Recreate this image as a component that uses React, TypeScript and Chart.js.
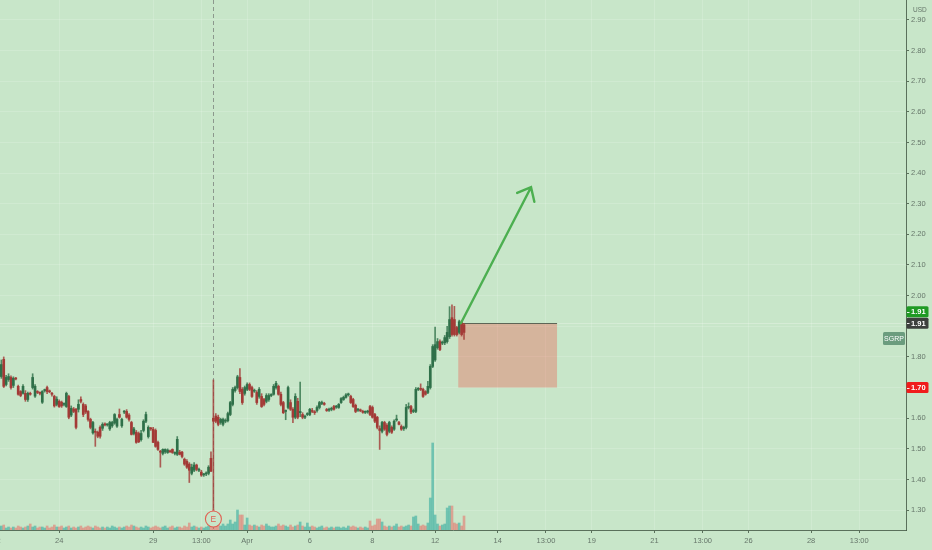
import React, { useEffect, useRef } from "react";
import { Chart, registerables } from "chart.js";

Chart.register(...registerables);

// ---- 30-minute bars, index 1 = 2nd bar of Mar 22 (13 bars per session) ----
const FIRST_BAR = 1;

const OPEN = [
  1.750,1.736,1.792,1.710,1.726,1.733,1.707,1.730,1.704,1.687,1.681,1.681,
  1.661,1.681,1.700,1.672,1.685,1.682,1.652,1.690,1.700,1.688,1.680,1.671,1.645,
  1.655,1.652,1.645,1.638,1.671,1.610,1.630,1.629,1.629,1.661,1.645,1.640,1.622,
  1.596,1.552,1.556,1.554,1.570,1.567,1.580,1.578,1.565,1.575,1.584,1.574,1.612,
  1.575,1.620,1.622,1.610,1.586,1.550,1.554,1.550,1.530,1.560,1.590,1.540,1.566,
  1.564,1.560,1.521,1.492,1.485,1.490,1.488,1.492,1.498,1.485,1.482,1.489,1.489,
  1.466,1.459,1.450,1.420,1.430,1.447,1.430,1.424,1.415,1.418,1.420,1.469,1.600,
  1.607,1.603,1.586,1.580,1.590,1.592,1.612,1.645,1.690,1.700,1.733,1.694,1.681,
  1.694,1.710,1.700,1.688,1.684,1.671,1.671,1.661,1.655,1.661,1.674,1.678,1.700,
  1.704,1.678,1.651,1.622,1.635,1.651,1.629,1.603,1.655,1.618,1.612,1.603,1.612,
  1.612,1.625,1.620,1.625,1.635,1.648,1.648,1.628,1.626,1.629,1.638,1.636,1.635,
  1.651,1.661,1.668,1.676,1.671,1.661,1.642,1.626,1.627,1.622,1.619,1.620,1.638,
  1.635,1.612,1.603,1.566,1.557,1.586,1.577,1.557,1.570,1.564,1.594,1.586,1.573,
  1.566,1.570,1.635,1.638,1.622,1.622,1.694,1.696,1.694,1.687,1.684,1.700,1.769,
  1.790,1.830,1.850,1.845,1.846,1.850,1.866,1.928,1.922,1.896,1.880,1.912,1.905,
];

const HIGH = [
  1.780,1.790,1.800,1.740,1.745,1.738,1.735,1.733,1.708,1.690,1.710,1.690,
  1.685,1.685,1.745,1.710,1.690,1.686,1.690,1.695,1.705,1.692,1.684,1.675,1.670,
  1.660,1.656,1.650,1.685,1.675,1.640,1.635,1.632,1.660,1.670,1.650,1.645,1.625,
  1.600,1.590,1.565,1.558,1.575,1.585,1.585,1.582,1.590,1.590,1.615,1.600,1.630,
  1.600,1.625,1.628,1.615,1.590,1.570,1.560,1.555,1.560,1.595,1.620,1.575,1.570,
  1.570,1.565,1.525,1.495,1.500,1.500,1.500,1.496,1.500,1.490,1.540,1.495,1.492,
  1.470,1.465,1.455,1.450,1.455,1.450,1.437,1.430,1.420,1.425,1.445,1.490,1.725,
  1.615,1.610,1.600,1.600,1.598,1.620,1.655,1.700,1.705,1.740,1.762,1.700,1.705,
  1.715,1.715,1.705,1.695,1.690,1.700,1.680,1.665,1.680,1.680,1.680,1.710,1.720,
  1.708,1.685,1.655,1.627,1.705,1.660,1.635,1.680,1.665,1.718,1.618,1.610,1.618,
  1.632,1.632,1.625,1.640,1.655,1.656,1.652,1.632,1.633,1.636,1.642,1.642,1.648,
  1.667,1.672,1.680,1.682,1.675,1.665,1.646,1.632,1.630,1.626,1.624,1.626,1.642,
  1.640,1.616,1.606,1.575,1.590,1.590,1.582,1.590,1.575,1.595,1.610,1.590,1.578,
  1.574,1.645,1.650,1.642,1.630,1.700,1.700,1.712,1.698,1.690,1.720,1.775,1.840,
  1.897,1.860,1.856,1.852,1.870,1.900,1.964,1.970,1.965,1.900,1.920,1.918,1.910,
];

const LOW = [
  1.745,1.730,1.700,1.705,1.720,1.695,1.700,1.725,1.675,1.670,1.678,1.655,
  1.655,1.675,1.695,1.668,1.680,1.676,1.648,1.685,1.680,1.683,1.672,1.636,1.640,
  1.635,1.635,1.640,1.635,1.598,1.605,1.618,1.565,1.620,1.650,1.605,1.615,1.590,
  1.565,1.548,1.508,1.536,1.535,1.560,1.575,1.574,1.560,1.570,1.580,1.570,1.600,
  1.570,1.615,1.600,1.590,1.545,1.545,1.518,1.520,1.525,1.555,1.585,1.535,1.560,
  1.520,1.505,1.495,1.440,1.480,1.485,1.485,1.488,1.485,1.480,1.478,1.480,1.470,
  1.446,1.436,1.390,1.415,1.425,1.428,1.425,1.410,1.410,1.412,1.415,1.425,1.300,
  1.585,1.575,1.580,1.575,1.585,1.588,1.608,1.640,1.685,1.695,1.680,1.645,1.675,
  1.690,1.690,1.668,1.684,1.645,1.665,1.635,1.640,1.650,1.655,1.670,1.675,1.695,
  1.675,1.640,1.615,1.595,1.630,1.625,1.585,1.598,1.598,1.605,1.598,1.598,1.608,
  1.608,1.618,1.612,1.620,1.630,1.644,1.642,1.622,1.622,1.624,1.626,1.632,1.632,
  1.648,1.658,1.665,1.672,1.648,1.635,1.618,1.622,1.621,1.616,1.615,1.616,1.608,
  1.600,1.585,1.565,1.498,1.552,1.560,1.542,1.552,1.550,1.560,1.590,1.578,1.560,
  1.560,1.565,1.630,1.615,1.618,1.618,1.690,1.690,1.668,1.675,1.680,1.695,1.765,
  1.785,1.825,1.820,1.840,1.840,1.845,1.860,1.868,1.868,1.868,1.875,1.868,1.857,
];

const CLOSE = [
  1.775,1.775,1.704,1.733,1.736,1.700,1.730,1.728,1.678,1.674,1.704,1.661,
  1.681,1.678,1.733,1.704,1.684,1.681,1.687,1.691,1.687,1.686,1.678,1.640,1.662,
  1.638,1.640,1.648,1.681,1.603,1.632,1.622,1.570,1.645,1.655,1.612,1.620,1.596,
  1.570,1.586,1.554,1.541,1.541,1.580,1.578,1.579,1.586,1.586,1.612,1.596,1.603,
  1.596,1.622,1.603,1.596,1.547,1.565,1.521,1.523,1.550,1.590,1.612,1.570,1.565,
  1.521,1.508,1.498,1.489,1.498,1.498,1.496,1.490,1.488,1.486,1.531,1.482,1.475,
  1.450,1.440,1.430,1.440,1.447,1.433,1.432,1.414,1.417,1.420,1.440,1.427,1.590,
  1.590,1.580,1.596,1.596,1.592,1.615,1.651,1.694,1.700,1.735,1.687,1.651,1.700,
  1.710,1.694,1.671,1.690,1.651,1.694,1.638,1.645,1.674,1.674,1.676,1.704,1.714,
  1.678,1.645,1.618,1.625,1.700,1.629,1.603,1.671,1.603,1.622,1.603,1.606,1.612,
  1.629,1.622,1.618,1.635,1.651,1.651,1.645,1.625,1.628,1.632,1.629,1.638,1.645,
  1.664,1.668,1.676,1.678,1.651,1.638,1.622,1.629,1.624,1.619,1.621,1.623,1.612,
  1.603,1.590,1.570,1.560,1.586,1.564,1.547,1.586,1.554,1.590,1.597,1.580,1.564,
  1.570,1.635,1.638,1.620,1.625,1.694,1.697,1.694,1.671,1.678,1.704,1.769,1.834,
  1.840,1.850,1.824,1.847,1.863,1.880,1.922,1.873,1.873,1.873,1.915,1.873,1.880,
];

// volume in thousands of shares
const VOLUME = [
  30,40,50,20,30,20,30,20,40,30,20,30,
  40,60,30,40,20,30,30,20,40,20,30,50,30,
  30,40,20,30,40,20,30,20,30,40,20,30,40,
  30,20,40,30,20,30,20,30,20,40,30,20,30,
  20,30,40,30,50,40,30,20,30,20,40,30,20,
  30,40,30,20,30,40,20,30,40,20,30,30,20,
  40,30,70,30,40,30,20,30,20,30,40,30,200,
  60,50,40,60,40,60,100,60,80,200,150,150,50,
  120,50,40,50,40,30,50,40,60,40,30,30,40,
  60,40,50,40,30,50,30,40,50,80,40,30,70,
  30,40,30,20,30,40,20,30,20,30,20,30,30,
  20,30,20,40,30,40,30,20,30,20,30,20,90,
  40,50,110,110,80,40,30,40,30,40,60,30,40,
  30,40,50,40,130,140,60,40,50,40,70,320,870,
  150,60,40,50,60,220,240,240,70,60,70,40,140,
];

// time axis: bar index of each labelled session / time
const TICK_BARS = [0, 26, 65, 85, 104, 130, 156, 182, 208, 228, 247, 273, 293, 312, 338, 358];
const TICK_LABELS = ["22", "24", "29", "13:00", "Apr", "6", "8", "12", "14", "13:00", "19", "21", "13:00", "26", "28", "13:00"];

const PRICE_TICKS = [1.3, 1.4, 1.5, 1.6, 1.7, 1.8, 1.9, 2.0, 2.1, 2.2, 2.3, 2.4, 2.5, 2.6, 2.7, 2.8, 2.9];

const SYMBOL = "SGRP";
const CURRENCY = "USD";
const EARNINGS_MARK = "E";
const EARNINGS_BAR = 89.8;
const ENTRY_PRICE = 1.91;
const LAST_PRICE = 1.91;
const STOP_PRICE = 1.7;
const SYMBOL_LABEL_PRICE = 1.86;
const BOX_START_BAR = 191.6;
const BOX_END_BAR = 232.6;
const ARROW_FROM_BAR = 192.7;
const ARROW_FROM_PRICE = 1.91;
const ARROW_TO_BAR = 221.8;
const ARROW_TO_PRICE = 2.354;

const X_MIN = 1.45;
const X_MAX = 377.4;
const Y_MIN = 1.235;
const Y_MAX = 2.965;
const VOL_MAX = 5300;

const BG = "#c8e6c9";
const GRID = "rgba(255,255,255,0.16)";
const AXIS = "rgba(70,90,72,0.85)";
const TEXT = "#66766a";
const UP = "#2f7049";
const DOWN = "#a33a36";
const FONT = "'Liberation Sans', Arial, sans-serif";

function roundRect(ctx: CanvasRenderingContext2D, x: number, y: number, w: number, h: number, r: number) {
  ctx.beginPath();
  ctx.moveTo(x + r, y);
  ctx.lineTo(x + w - r, y);
  ctx.quadraticCurveTo(x + w, y, x + w, y + r);
  ctx.lineTo(x + w, y + h - r);
  ctx.quadraticCurveTo(x + w, y + h, x + w - r, y + h);
  ctx.lineTo(x + r, y + h);
  ctx.quadraticCurveTo(x, y + h, x, y + h - r);
  ctx.lineTo(x, y + r);
  ctx.quadraticCurveTo(x, y, x + r, y);
  ctx.closePath();
}

const overlay = {
  id: "overlay",
  beforeDraw(chart: any) {
    const { ctx, width, height } = chart;
    ctx.save();
    ctx.fillStyle = BG;
    ctx.fillRect(0, 0, width, height);
    ctx.restore();
  },
  beforeDatasetsDraw(chart: any) {
    const { ctx, chartArea, scales } = chart;
    const x = scales.x;
    const y = scales.y;
    ctx.save();
    // earnings dashed line
    const ex = Math.round(x.getPixelForValue(EARNINGS_BAR)) + 0.5;
    ctx.strokeStyle = "rgba(120,125,120,0.75)";
    ctx.lineWidth = 1;
    ctx.setLineDash([4, 3]);
    ctx.beginPath();
    ctx.moveTo(ex, chartArea.top);
    ctx.lineTo(ex, chartArea.bottom);
    ctx.stroke();
    ctx.setLineDash([]);
    // last price line
    const ly = Math.round(y.getPixelForValue(LAST_PRICE)) + 0.5;
    ctx.strokeStyle = "rgba(255,255,255,0.25)";
    ctx.beginPath();
    ctx.moveTo(chartArea.left, ly);
    ctx.lineTo(chartArea.right, ly);
    ctx.stroke();
    // stop box
    const bx1 = x.getPixelForValue(BOX_START_BAR);
    const bx2 = x.getPixelForValue(BOX_END_BAR);
    const by1 = y.getPixelForValue(ENTRY_PRICE);
    const by2 = y.getPixelForValue(STOP_PRICE);
    ctx.fillStyle = "rgba(244,67,54,0.3)";
    ctx.fillRect(bx1, by1, bx2 - bx1, by2 - by1);
    ctx.strokeStyle = "rgba(70,85,70,0.85)";
    ctx.beginPath();
    ctx.moveTo(bx1, Math.round(by1) + 0.5);
    ctx.lineTo(bx2, Math.round(by1) + 0.5);
    ctx.stroke();
    ctx.restore();
  },
  afterDatasetsDraw(chart: any) {
    const { ctx, chartArea, scales } = chart;
    const x = scales.x;
    const y = scales.y;
    ctx.save();
    // arrow
    const x0 = x.getPixelForValue(ARROW_FROM_BAR);
    const y0 = y.getPixelForValue(ARROW_FROM_PRICE);
    const x1 = x.getPixelForValue(ARROW_TO_BAR);
    const y1 = y.getPixelForValue(ARROW_TO_PRICE);
    ctx.strokeStyle = "#4caf50";
    ctx.lineWidth = 2.4;
    ctx.lineCap = "round";
    ctx.beginPath();
    ctx.moveTo(x0, y0);
    ctx.lineTo(x1, y1);
    const ang = Math.atan2(y1 - y0, x1 - x0) + Math.PI;
    const head = 15;
    ctx.moveTo(x1 + head * Math.cos(ang + 0.7), y1 + head * Math.sin(ang + 0.7));
    ctx.lineTo(x1, y1);
    ctx.lineTo(x1 + head * Math.cos(ang - 0.7), y1 + head * Math.sin(ang - 0.7));
    ctx.stroke();
    // earnings marker
    const ex = x.getPixelForValue(EARNINGS_BAR) + 0.5;
    const ey = chartArea.bottom - 11;
    ctx.lineWidth = 1.1;
    ctx.strokeStyle = "rgba(226,88,76,0.95)";
    ctx.fillStyle = BG;
    ctx.beginPath();
    ctx.arc(ex, ey, 8, 0, Math.PI * 2);
    ctx.fill();
    ctx.stroke();
    ctx.fillStyle = "rgba(226,88,76,0.95)";
    ctx.font = `8.5px ${FONT}`;
    ctx.textAlign = "center";
    ctx.textBaseline = "middle";
    ctx.fillText(EARNINGS_MARK, ex, ey + 0.5);
    ctx.restore();
  },
  afterDraw(chart: any) {
    const { ctx, chartArea, scales } = chart;
    const y = scales.y;
    const ax = chartArea.right;
    ctx.save();
    ctx.textBaseline = "middle";
    // currency
    ctx.fillStyle = TEXT;
    ctx.font = `6.5px ${FONT}`;
    ctx.textAlign = "left";
    ctx.fillText(CURRENCY, ax + 7, 10.5);
    // price labels
    const labels = [
      { value: ENTRY_PRICE, shift: -11.5, color: "#1f9a24" },
      { value: LAST_PRICE, shift: 0, color: "#3d3f3d" },
      { value: STOP_PRICE, shift: 0, color: "#f01c1c" },
    ];
    for (const l of labels) {
      const cy = y.getPixelForValue(l.value) + l.shift;
      ctx.fillStyle = l.color;
      roundRect(ctx, ax + 0.5, cy - 5.5, 22, 11, 1.5);
      ctx.fill();
      ctx.strokeStyle = "rgba(255,255,255,0.9)";
      ctx.lineWidth = 1;
      ctx.beginPath();
      ctx.moveTo(ax + 1, Math.round(cy) + 0.5);
      ctx.lineTo(ax + 3.5, Math.round(cy) + 0.5);
      ctx.stroke();
      ctx.fillStyle = "#ffffff";
      ctx.font = `bold 7.5px ${FONT}`;
      ctx.textAlign = "left";
      ctx.fillText(l.value.toFixed(2), ax + 5, cy + 0.5);
    }
    // symbol label
    const sy = y.getPixelForValue(SYMBOL_LABEL_PRICE);
    ctx.fillStyle = "#6b9c7e";
    roundRect(ctx, ax - 23, sy - 6.5, 22, 13, 1.5);
    ctx.fill();
    ctx.fillStyle = "#ffffff";
    ctx.font = `7px ${FONT}`;
    ctx.textAlign = "center";
    ctx.fillText(SYMBOL, ax - 12, sy + 0.5);
    ctx.restore();
  },
};

export default function App() {
  const ref = useRef<HTMLCanvasElement | null>(null);

  useEffect(() => {
    if (!ref.current) return;
    const bars = OPEN.map((_, i) => FIRST_BAR + i);
    const up = OPEN.map((o, i) => CLOSE[i] >= o);
    const chart = new Chart(ref.current, {
      type: "bar",
      data: {
        datasets: [
          {
            label: "body",
            data: bars.map((b, i) => ({ x: b, y: [OPEN[i], CLOSE[i]] })) as any,
            backgroundColor: up.map((u) => (u ? UP : DOWN)),
            barThickness: 2,
            minBarLength: 1,
            grouped: false,
            order: 1,
            yAxisID: "y",
          },
          {
            label: "wick",
            data: bars.map((b, i) => ({ x: b, y: [LOW[i], HIGH[i]] })) as any,
            backgroundColor: up.map((u) => (u ? "rgba(47,112,73,0.8)" : "rgba(163,58,54,0.8)")),
            barThickness: 1,
            grouped: false,
            order: 2,
            yAxisID: "y",
          },
          {
            label: "volume",
            data: bars.map((b, i) => ({ x: b, y: VOLUME[i] })) as any,
            backgroundColor: up.map((u) => (u ? "rgba(38,166,154,0.55)" : "rgba(239,83,80,0.45)")),
            barThickness: 2,
            grouped: false,
            order: 3,
            yAxisID: "yv",
          },
        ],
      },
      options: {
        responsive: false,
        animation: false,
        events: [],
        layout: { padding: 0 },
        plugins: { legend: { display: false }, tooltip: { enabled: false } },
        scales: {
          x: {
            type: "linear",
            position: "bottom",
            min: X_MIN,
            max: X_MAX,
            offset: false,
            afterBuildTicks: (s: any) => {
              s.ticks = TICK_BARS.map((v) => ({ value: v }));
            },
            afterFit: (s: any) => {
              s.height = 20;
              s.paddingLeft = 0;
              s.paddingRight = 0;
            },
            ticks: {
              autoSkip: false,
              maxRotation: 0,
              color: TEXT,
              padding: 3,
              font: { family: FONT, size: 7.5 },
              callback: (v: any) => {
                const i = TICK_BARS.indexOf(Number(v));
                return i >= 0 ? TICK_LABELS[i] : "";
              },
            },
            grid: { color: GRID, tickColor: AXIS, tickLength: 3, offset: false },
            border: { color: AXIS, width: 1 },
          },
          y: {
            type: "linear",
            position: "right",
            min: Y_MIN,
            max: Y_MAX,
            afterBuildTicks: (s: any) => {
              s.ticks = PRICE_TICKS.map((v) => ({ value: v }));
            },
            afterFit: (s: any) => {
              s.width = 26;
              s.paddingTop = 0;
              s.paddingBottom = 0;
            },
            ticks: {
              color: TEXT,
              padding: 2,
              font: { family: FONT, size: 7.5 },
              callback: (v: any) => Number(v).toFixed(2),
            },
            grid: { color: GRID, tickColor: AXIS, tickLength: 3 },
            border: { color: AXIS, width: 1 },
          },
          yv: { display: false, min: 0, max: VOL_MAX },
        },
      },
      plugins: [overlay],
    } as any);
    return () => chart.destroy();
  }, []);

  return (
    <div style={{ position: "absolute", left: 0, top: 0, width: 932, height: 550 }}>
      <canvas ref={ref} width={932} height={550} />
    </div>
  );
}
